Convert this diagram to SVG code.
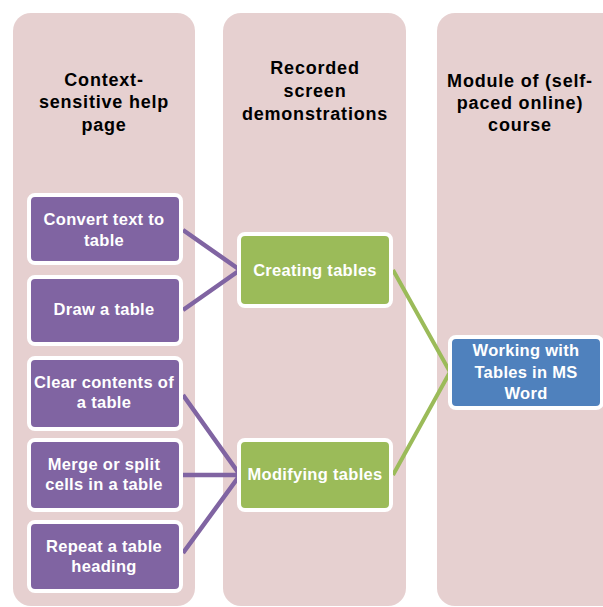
<svg xmlns="http://www.w3.org/2000/svg" width="603" height="607" viewBox="0 0 603 607">
<style>
.col{fill:#E6D0D0}
.hd{font-family:"Liberation Sans",Arial,sans-serif;font-weight:bold;font-size:18px;fill:#000;text-anchor:middle;letter-spacing:0.8px}
.bx{stroke:#fff;stroke-width:4}
.p{fill:#8064A2}
.g{fill:#9BBB59}
.b{fill:#4F81BD}
.t{font-family:"Liberation Sans",Arial,sans-serif;font-weight:bold;font-size:16.5px;fill:#fff;text-anchor:middle;letter-spacing:0.3px}
.cp{stroke:#8064A2;stroke-width:4.5;fill:none}
.cg{stroke:#9BBB59;stroke-width:4;fill:none}
</style>
<rect width="603" height="607" fill="#fff"/>
<g id="col1"><rect class="col" x="13" y="13" width="182" height="593" rx="18"/>
<text class="hd"><tspan x="104" y="86">Context-</tspan><tspan x="104" y="108">sensitive help</tspan><tspan x="104" y="131">page</tspan></text></g>
<g id="col2"><rect class="col" x="223" y="13" width="183" height="593" rx="18"/>
<text class="hd"><tspan x="315" y="74">Recorded</tspan><tspan x="315" y="97">screen</tspan><tspan x="315" y="120">demonstrations</tspan></text></g>
<g id="col3"><rect class="col" x="437" y="13" width="190" height="593" rx="18"/>
<text class="hd"><tspan x="520" y="87">Module of (self-</tspan><tspan x="520" y="109">paced online)</tspan><tspan x="520" y="131">course</tspan></text></g>
<g id="connectors">
<path class="cp" d="M183 230 L240 270 M183 310 L240 270 M183 395 L240 475 M183 475 L240 475 M183 553 L240 475"/>
<path class="cg" d="M393 270 L450 372 M393 475 L450 372"/>
</g>
<g id="n1"><rect class="bx p" x="29" y="195" width="152" height="68" rx="6"/><text class="t"><tspan x="104" y="225">Convert text to</tspan><tspan x="104" y="246">table</tspan></text></g>
<g id="n2"><rect class="bx p" x="29" y="277" width="152" height="67" rx="6"/><text class="t" x="104" y="315">Draw a table</text></g>
<g id="n3"><rect class="bx p" x="29" y="358" width="152" height="71" rx="6"/><text class="t"><tspan x="104" y="388">Clear contents of</tspan><tspan x="104" y="408">a table</tspan></text></g>
<g id="n4"><rect class="bx p" x="29" y="440" width="152" height="70" rx="6"/><text class="t"><tspan x="104" y="470">Merge or split</tspan><tspan x="104" y="490">cells in a table</tspan></text></g>
<g id="n5"><rect class="bx p" x="29" y="522" width="152" height="69" rx="6"/><text class="t"><tspan x="104" y="552">Repeat a table</tspan><tspan x="104" y="572">heading</tspan></text></g>
<g id="n6"><rect class="bx g" x="239" y="234" width="152" height="72" rx="6"/><text class="t" x="315" y="276">Creating tables</text></g>
<g id="n7"><rect class="bx g" x="239" y="440" width="152" height="70" rx="6"/><text class="t" x="315" y="480">Modifying tables</text></g>
<g id="n8"><rect class="bx b" x="450" y="337" width="152" height="71" rx="6"/><text class="t"><tspan x="526" y="356">Working with</tspan><tspan x="526" y="378">Tables in MS</tspan><tspan x="526" y="399">Word</tspan></text></g>
</svg>
